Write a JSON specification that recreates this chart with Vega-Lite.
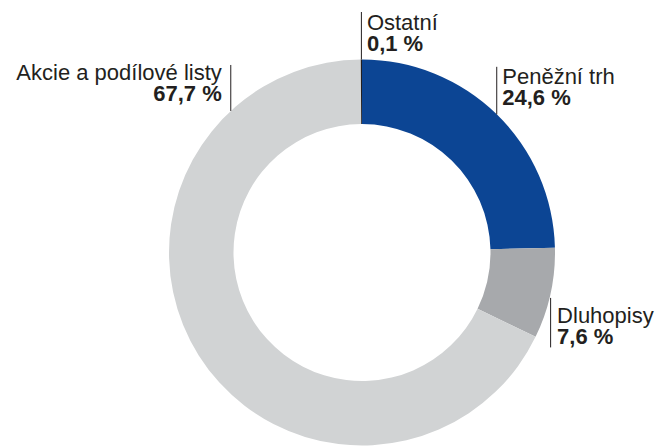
{
  "$schema": "https://vega.github.io/schema/vega-lite/v6.json",
  "width": 580,
  "height": 386,
  "padding": {"left": 72, "top": 59.5, "right": 7, "bottom": 0.5},
  "autosize": {"type": "none"},
  "background": "white",
  "config": {"view": {"stroke": null}, "text": {"font": "Liberation Sans", "fontSize": 22, "color": "#231f20"}},
  "data": {"values": [
    {"category": "Peněžní trh", "value": 24.6, "label": "24,6 %", "order": 1},
    {"category": "Dluhopisy", "value": 7.6, "label": "7,6 %", "order": 2},
    {"category": "Akcie a podílové listy", "value": 67.7, "label": "67,7 %", "order": 3},
    {"category": "Ostatní", "value": 0.1, "label": "0,1 %", "order": 4}
  ]},
  "transform": [
    {"window": [{"op": "sum", "field": "value", "as": "cum"}], "sort": [{"field": "order"}], "frame": [null, 0]},
    {"calculate": "2*PI*(datum.cum - datum.value/2)/100", "as": "ang"},
    {"calculate": "193*sin(datum.ang)", "as": "ax"},
    {"calculate": "193*cos(datum.ang)", "as": "ay"}
  ],
  "layer": [
    {
      "mark": {"type": "arc", "innerRadius": 128.5, "outerRadius": 193},
      "encoding": {
        "theta": {"field": "value", "type": "quantitative", "stack": true, "scale": {"domain": [0, 100]}},
        "order": {"field": "order", "type": "quantitative"},
        "color": {"field": "category", "type": "nominal", "legend": null,
          "scale": {"domain": ["Peněžní trh", "Dluhopisy", "Akcie a podílové listy", "Ostatní"],
                    "range": ["#0c4594", "#a7a9ac", "#d1d3d4", "#231f20"]}}
      }
    },
    {
      "transform": [{"filter": "datum.category === 'Ostatní' || datum.category === 'Peněžní trh'"}, {"calculate": "datum.ay + 47.5", "as": "ay2"}],
      "layer": [
        {
          "mark": {"type": "rule", "color": "#231f20", "strokeWidth": 1},
          "encoding": {
            "x": {"field": "ax", "type": "quantitative", "scale": {"domain": [-290, 290], "nice": false, "zero": false}, "axis": null},
            "y": {"field": "ay", "type": "quantitative", "scale": {"domain": [-193, 193], "nice": false, "zero": false}, "axis": null},
            "y2": {"field": "ay2"}
          }
        },
        {
          "mark": {"type": "text", "align": "left", "baseline": "alphabetic", "dx": 5.5, "dy": -30},
          "encoding": {
            "x": {"field": "ax", "type": "quantitative", "scale": {"domain": [-290, 290], "nice": false, "zero": false}, "axis": null},
            "y": {"field": "ay", "type": "quantitative", "scale": {"domain": [-193, 193], "nice": false, "zero": false}, "axis": null},
            "text": {"field": "category"}
          }
        },
        {
          "mark": {"type": "text", "align": "left", "baseline": "alphabetic", "dx": 5.5, "dy": -9, "fontWeight": "bold"},
          "encoding": {
            "x": {"field": "ax", "type": "quantitative", "scale": {"domain": [-290, 290], "nice": false, "zero": false}, "axis": null},
            "y": {"field": "ay", "type": "quantitative", "scale": {"domain": [-193, 193], "nice": false, "zero": false}, "axis": null},
            "text": {"field": "label"}
          }
        }
      ]
    },
    {
      "transform": [{"filter": "datum.category === 'Dluhopisy'"}, {"calculate": "datum.ay - 4.5", "as": "ayt"}, {"calculate": "datum.ay - 54", "as": "ay2"}],
      "layer": [
        {
          "mark": {"type": "rule", "color": "#231f20", "strokeWidth": 1},
          "encoding": {
            "x": {"field": "ax", "type": "quantitative", "scale": {"domain": [-290, 290], "nice": false, "zero": false}, "axis": null},
            "y": {"field": "ayt", "type": "quantitative", "scale": {"domain": [-193, 193], "nice": false, "zero": false}, "axis": null},
            "y2": {"field": "ay2"}
          }
        },
        {
          "mark": {"type": "text", "align": "left", "baseline": "alphabetic", "dx": 6.5, "dy": 29.5},
          "encoding": {
            "x": {"field": "ax", "type": "quantitative", "scale": {"domain": [-290, 290], "nice": false, "zero": false}, "axis": null},
            "y": {"field": "ay", "type": "quantitative", "scale": {"domain": [-193, 193], "nice": false, "zero": false}, "axis": null},
            "text": {"field": "category"}
          }
        },
        {
          "mark": {"type": "text", "align": "left", "baseline": "alphabetic", "dx": 6.5, "dy": 50.5, "fontWeight": "bold"},
          "encoding": {
            "x": {"field": "ax", "type": "quantitative", "scale": {"domain": [-290, 290], "nice": false, "zero": false}, "axis": null},
            "y": {"field": "ay", "type": "quantitative", "scale": {"domain": [-193, 193], "nice": false, "zero": false}, "axis": null},
            "text": {"field": "label"}
          }
        }
      ]
    },
    {
      "transform": [
        {"filter": "datum.category === 'Akcie a podílové listy'"},
        {"calculate": "193*sin(2*PI*0.881)", "as": "lx"},
        {"calculate": "193*cos(2*PI*0.881)", "as": "ly"},
        {"calculate": "datum.ly + 46", "as": "ly2"}
      ],
      "layer": [
        {
          "mark": {"type": "rule", "color": "#231f20", "strokeWidth": 1},
          "encoding": {
            "x": {"field": "lx", "type": "quantitative", "scale": {"domain": [-290, 290], "nice": false, "zero": false}, "axis": null},
            "y": {"field": "ly", "type": "quantitative", "scale": {"domain": [-193, 193], "nice": false, "zero": false}, "axis": null},
            "y2": {"field": "ly2"}
          }
        },
        {
          "mark": {"type": "text", "align": "right", "baseline": "alphabetic", "dx": -9, "dy": -31},
          "encoding": {
            "x": {"field": "lx", "type": "quantitative", "scale": {"domain": [-290, 290], "nice": false, "zero": false}, "axis": null},
            "y": {"field": "ly", "type": "quantitative", "scale": {"domain": [-193, 193], "nice": false, "zero": false}, "axis": null},
            "text": {"field": "category"}
          }
        },
        {
          "mark": {"type": "text", "align": "right", "baseline": "alphabetic", "dx": -9, "dy": -10, "fontWeight": "bold"},
          "encoding": {
            "x": {"field": "lx", "type": "quantitative", "scale": {"domain": [-290, 290], "nice": false, "zero": false}, "axis": null},
            "y": {"field": "ly", "type": "quantitative", "scale": {"domain": [-193, 193], "nice": false, "zero": false}, "axis": null},
            "text": {"field": "label"}
          }
        }
      ]
    }
  ]
}
